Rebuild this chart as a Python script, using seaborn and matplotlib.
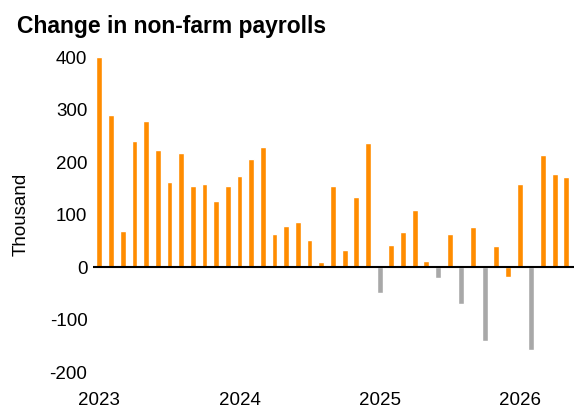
import pandas as pd
import seaborn as sns
import matplotlib.pyplot as plt

# ------------------------------
# Data: monthly change in non-farm payrolls (thousand), Jan 2023 - May 2026
# ------------------------------
months = pd.date_range("2023-01-01", "2026-05-01", freq="MS")
values = [400, 290, 68, 240, 279, 224, 162, 217, 155, 159, 126, 154,
          174, 205, 228, 63, 78, 86, 52, 9, 154, 33, 134, 237,
          -49, 42, 67, 109, 12, -21, 63, -70, 76, -140, 40, -18,
          159, -157, 213, 178, 171]
# grey bars flagged in the source chart
grey = [0] * 24 + [1, 0, 0, 0, 0, 1, 0, 1, 0, 1, 0, 0, 0, 1, 0, 0, 0]
year_labels = ["2023", "2024", "2025", "2026"]

df = pd.DataFrame({"month": months, "value": values,
                   "group": ["grey" if g else "orange" for g in grey]})
df["pos"] = range(len(df))

# ------------------------------
# Plot
# ------------------------------
sns.set_style("white")
plt.rcParams["font.family"] = ["Liberation Sans", "DejaVu Sans"]
plt.rcParams["axes.unicode_minus"] = False
plt.rcParams["text.color"] = "black"
plt.rcParams["xtick.color"] = "black"
plt.rcParams["ytick.color"] = "black"
plt.rcParams["axes.labelcolor"] = "black"

fig = plt.figure(figsize=(5.74, 4.08), dpi=100)
ax = fig.add_axes([0.162, 0.088, 0.838, 0.772])

sns.barplot(data=df, x="pos", y="value", hue="group",
            palette={"orange": "#ff8c00", "grey": "#a8a8a8"},
            dodge=False, width=0.5, legend=False, ax=ax, saturation=1)

ax.axhline(0, color="black", lw=1.5, zorder=5)
ax.set_ylim(-200, 400)
ax.set_yticks([-200, -100, 0, 100, 200, 300, 400])
ax.set_xlim(-0.55, 40.65)
ax.set_xticks([0, 12, 24, 36])
ax.set_xticklabels(year_labels)
ax.tick_params(axis="both", length=0, labelsize=13.5)
ax.tick_params(axis="x", pad=14)
ax.tick_params(axis="y", pad=4)
ax.set_xlabel("")
ax.set_ylabel("Thousand", fontsize=13.5, labelpad=14)
for s in ax.spines.values():
    s.set_visible(False)

fig.text(0.03, 0.92, "Change in non-farm payrolls", fontsize=16.5,
         fontweight="bold")

fig.savefig("out.png", dpi=100)
